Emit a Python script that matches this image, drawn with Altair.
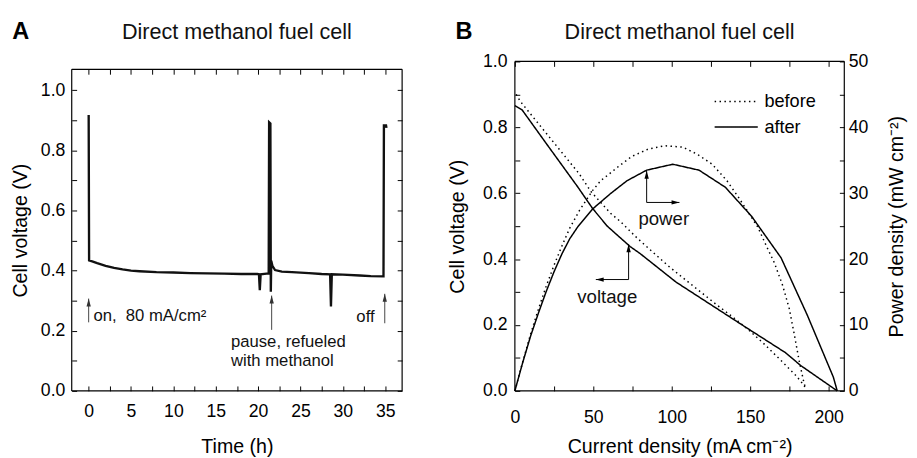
import altair as alt
import pandas as pd

FONT = "Liberation Sans"
PANEL_TITLE = "Direct methanol fuel cell"
PANEL_LETTERS = ["A", "B"]

# ---------------- Panel A: cell voltage vs time ----------------
time_h = [0.0, 0.05, 0.5, 1, 2, 3, 4, 5, 6, 8, 10, 12, 14, 16, 18, 19.9, 20.1, 20.2, 20.3,
          21.0, 21.25, 21.3, 21.45, 21.5, 21.55, 21.7, 22.0, 22.8, 24, 26, 27.5, 28.5, 28.6,
          28.7, 30, 32, 33.3, 34.8, 34.85, 35.1, 35.15]
cell_v = [0.918, 0.434, 0.430, 0.425, 0.416, 0.409, 0.404, 0.400, 0.398, 0.395, 0.394, 0.392,
          0.391, 0.390, 0.389, 0.389, 0.388, 0.335, 0.388, 0.390, 0.390, 0.894, 0.890, 0.330,
          0.433, 0.415, 0.402, 0.397, 0.395, 0.392, 0.389, 0.388, 0.281, 0.388, 0.387, 0.384,
          0.382, 0.381, 0.883, 0.883, 0.875]

a_x_domain = [-2, 37]
a_y_domain = [0, 1.07]
a_x_ticks = [0, 2.5, 5, 7.5, 10, 12.5, 15, 17.5, 20, 22.5, 25, 27.5, 30, 32.5, 35]
a_y_ticks = [0.0, 0.1, 0.2, 0.3, 0.4, 0.5, 0.6, 0.7, 0.8, 0.9, 1.0]

a_arrow_t = [0.0, 21.6, 34.95]
a_arrow_tip = [0.307, 0.317, 0.323]
a_arrow_base = [0.228, 0.203, 0.225]

a_left_labels = ["on,\u00a0\u00a080 mA/cm\u00b2", "pause, refueled", "with methanol"]
a_left_t = [0.56, 16.8, 16.8]
a_left_v = [0.249, 0.162, 0.100]
a_right_labels = ["off"]
a_right_t = [33.75]
a_right_v = [0.246]

# ---------------- Panel B: polarization curves ----------------
series_names = ["before", "after"]

before_v_i = [0.8, 3.6, 20, 41, 48.5, 61, 67.3, 77.7, 88.2, 97.6, 108, 118.5, 129, 138.4,
              148.8, 159.2, 169.7, 179.1, 184.3, 185.5]
before_v = [0.900, 0.878, 0.782, 0.659, 0.605, 0.539, 0.514, 0.465, 0.420, 0.380, 0.340,
            0.300, 0.260, 0.226, 0.186, 0.141, 0.092, 0.047, 0.017, 0.005]
after_v_i = [0, 4.6, 20, 40.1, 49.5, 58.9, 73.5, 79.8, 102.8, 144.6, 172.5, 182.2, 205.5]
after_v = [0.866, 0.853, 0.751, 0.619, 0.554, 0.500, 0.438, 0.417, 0.330, 0.201, 0.116,
           0.077, 0.0]

before_p_i = [0, 5, 10, 15, 20, 25, 30, 35, 41.2, 49.5, 54.7, 60, 65.2, 74.6, 85, 95.5, 107,
              116.4, 125.8, 135.2, 142.5, 155, 160.3, 165.5, 170.7, 174.9, 178.1, 181.2,
              184.3, 185.5]
before_p = [0, 4.4, 8.6, 12.4, 15.9, 19.1, 22.0, 24.7, 27.4, 30.4, 31.9, 32.9, 33.9, 35.6,
            36.7, 37.2, 37.0, 35.9, 34.4, 31.9, 29.4, 24.8, 22.0, 19.4, 16.0, 12.5, 8.6, 4.6,
            1.2, 0.3]
after_p_i = [0, 5, 10, 15, 20, 25, 30, 35, 40.1, 49.5, 61, 71.5, 84, 100.7, 117.4, 134.2,
             150.9, 169.7, 186.4, 203, 205.5]
after_p = [0, 4.3, 8.3, 11.8, 15.1, 18.1, 20.8, 23.1, 24.9, 27.6, 29.95, 31.9, 33.5, 34.4,
           33.5, 30.9, 26.5, 20.2, 11.5, 2.1, 0]

b_x_domain = [0, 210]
b_v_domain = [0, 1]
b_p_domain = [0, 50]
b_x_ticks = [0, 25, 50, 75, 100, 125, 150, 175, 200]
b_v_ticks = [0.0, 0.1, 0.2, 0.3, 0.4, 0.5, 0.6, 0.7, 0.8, 0.9, 1.0]
b_p_ticks = [0, 5, 10, 15, 20, 25, 30, 35, 40, 45, 50]

power_arrow_i = [84, 84, 104.9]
power_arrow_p = [33.4, 28.6, 28.6]
power_label = ["power"]
power_label_i = [94.9]
power_label_p = [26.0]

volt_arrow_i = [72.5, 72.5, 51.6]
volt_arrow_v = [0.445, 0.338, 0.338]
volt_label = ["voltage"]
volt_label_i = [58.9]
volt_label_v = [0.286]

# ---------------- helpers ----------------
TICK = 5
UP = "M0,0L0.55,2L-0.55,2Z"
RIGHT = "M0,0L-2,0.55L-2,-0.55Z"
LEFT = "M0,0L2,0.55L2,-0.55Z"
A_W, A_H, B_W, B_H = 337, 336, 336, 336


def axis(orient, values, expr=None, title=None, pad=7, extra=0, tpad=14, **kw):
    opts = dict(orient=orient, values=values, title=title, offset=-(TICK + extra),
                ticks=True, tickSize=TICK, domain=False, grid=False, labelPadding=pad,
                labelOverlap=False, labelFlush=False, titlePadding=tpad,
                tickColor="black", tickWidth=1, tickOpacity=1)
    if expr is None:
        opts["labels"] = False
    else:
        opts["labelExpr"] = expr
    opts.update(kw)
    return alt.Axis(**opts)


def frame_edges(xd, yd):
    # four sides of the plot frame, in data coordinates
    return pd.DataFrame({
        "xs": [xd[0], xd[0], xd[0], xd[1]],
        "xe": [xd[1], xd[1], xd[0], xd[1]],
        "ys": [yd[0], yd[1], yd[0], yd[0]],
        "ye": [yd[0], yd[1], yd[1], yd[1]],
    })


def heading(letter, width):
    df = pd.DataFrame({"s": [letter]})
    let = alt.Chart(df).mark_text(
        font=FONT, fontSize=24, fontWeight="bold", align="center", baseline="middle",
        color="black").encode(x=alt.value(-52), y=alt.value(-30), text="s:N")
    ttl = alt.Chart(pd.DataFrame({"s": [PANEL_TITLE]})).mark_text(
        font=FONT, fontSize=22, align="center", baseline="middle", color="#111111"
    ).encode(x=alt.value(width / 2), y=alt.value(-30), text="s:N")
    return let, ttl


# ---------------- Panel A ----------------
xa = alt.Scale(domain=a_x_domain, nice=False, zero=False)
ya = alt.Scale(domain=a_y_domain, range=[A_H, 8], nice=False, zero=False)

a_trace = pd.DataFrame({"t": time_h, "v": cell_v, "k": list(range(len(time_h)))})

a_line = alt.Chart(a_trace).mark_line(color="#111111", strokeWidth=2.4).encode(
    x=alt.X("t:Q", scale=xa,
            axis=axis("bottom", a_x_ticks,
                      "datum.value % 5 == 0 ? format(datum.value, '.0f') : ''",
                      title="Time (h)", pad=12, tpad=17)),
    y=alt.Y("v:Q", scale=ya,
            axis=axis("left", a_y_ticks,
                      "round(datum.value * 10) % 2 == 0 ? format(datum.value, '.1f') : ''",
                      title="Cell voltage (V)", pad=7, tpad=10)),
    order="k:Q",
)

a_frame = alt.Chart(frame_edges(a_x_domain, a_y_domain)).mark_rule(
    color="black", strokeWidth=1.2
).encode(
    x=alt.X("xs:Q", scale=xa, axis=axis("top", a_x_ticks, extra=8)),
    x2="xe:Q",
    y=alt.Y("ys:Q", scale=ya, axis=axis("right", a_y_ticks)),
    y2="ye:Q",
)

a_arrows_df = pd.DataFrame({"t": a_arrow_t, "tip": a_arrow_tip, "base": a_arrow_base})
a_shafts = alt.Chart(a_arrows_df).mark_rule(color="#444444", strokeWidth=1).encode(
    x=alt.X("t:Q", scale=xa, axis=None),
    y=alt.Y("base:Q", scale=ya, axis=None),
    y2="tip:Q",
)
a_heads = alt.Chart(a_arrows_df).mark_point(
    shape=UP, size=64, filled=True, color="#333333", opacity=1
).encode(
    x=alt.X("t:Q", scale=xa, axis=None),
    y=alt.Y("tip:Q", scale=ya, axis=None),
)
a_text_l = alt.Chart(pd.DataFrame({"s": a_left_labels, "t": a_left_t, "v": a_left_v})).mark_text(
    font=FONT, fontSize=17, align="left", baseline="middle", color="#111111"
).encode(x=alt.X("t:Q", scale=xa, axis=None), y=alt.Y("v:Q", scale=ya, axis=None), text="s:N")
a_text_r = alt.Chart(pd.DataFrame({"s": a_right_labels, "t": a_right_t, "v": a_right_v})).mark_text(
    font=FONT, fontSize=17, align="right", baseline="middle", color="#111111"
).encode(x=alt.X("t:Q", scale=xa, axis=None), y=alt.Y("v:Q", scale=ya, axis=None), text="s:N")
a_letter, a_title = heading(PANEL_LETTERS[0], A_W)

panel_a = alt.layer(
    a_line, a_frame, a_shafts, a_heads, a_text_l, a_text_r, a_letter, a_title
).resolve_axis(x="independent", y="independent").properties(width=A_W, height=A_H)

# ---------------- Panel B ----------------
xb = alt.Scale(domain=b_x_domain, nice=False, zero=False)
yv = alt.Scale(domain=b_v_domain, nice=False, zero=False)
yp = alt.Scale(domain=b_p_domain, nice=False, zero=False)
dash_scale = alt.Scale(domain=series_names, range=[[1.5, 3.5], [1, 0]])
legend = alt.Legend(
    title=None, orient="none", legendX=216.5, legendY=31.5, symbolType="M-4,0H4",
    symbolSize=121, symbolStrokeWidth=1.5, symbolStrokeColor="black", labelOffset=19.5,
    labelFontSize=18.5, labelFont=FONT, labelColor="black", rowPadding=7, padding=0,
)

volt_df = pd.DataFrame({
    "i": before_v_i + after_v_i,
    "v": before_v + after_v,
    "series": ["before"] * len(before_v_i) + ["after"] * len(after_v_i),
})
power_df = pd.DataFrame({
    "i": before_p_i + after_p_i,
    "p": before_p + after_p,
    "series": ["before"] * len(before_p_i) + ["after"] * len(after_p_i),
})

b_vlines = alt.Chart(volt_df).mark_line(color="black", strokeWidth=1.5).encode(
    x=alt.X("i:Q", scale=xb,
            axis=axis("bottom", b_x_ticks,
                      "datum.value % 50 == 0 ? format(datum.value, '.0f') : ''",
                      title="Current density (mA cm\u207b\u00b2)", pad=18, tpad=11)),
    y=alt.Y("v:Q", scale=yv,
            axis=axis("left", b_v_ticks,
                      "round(datum.value * 10) % 2 == 0 ? format(datum.value, '.1f') : ''",
                      title="Cell voltage (V)", pad=8, tpad=15)),
    strokeDash=alt.StrokeDash("series:N", scale=dash_scale, legend=legend),
)
b_frame = alt.Chart(frame_edges(b_x_domain, b_v_domain)).mark_rule(
    color="black", strokeWidth=1.2
).encode(
    x=alt.X("xs:Q", scale=xb, axis=axis("top", b_x_ticks)),
    x2="xe:Q",
    y=alt.Y("ys:Q", scale=yv, axis=None),
    y2="ye:Q",
)
volt_arrow = pd.DataFrame({"i": volt_arrow_i, "v": volt_arrow_v, "k": [0, 1, 2]})
b_varrow = alt.Chart(volt_arrow).mark_line(color="black", strokeWidth=1).encode(
    x=alt.X("i:Q", scale=xb, axis=None), y=alt.Y("v:Q", scale=yv, axis=None), order="k:Q"
)
b_vhead_up = alt.Chart(volt_arrow.iloc[[0]]).mark_point(
    shape=UP, size=64, filled=True, color="black", opacity=1
).encode(x=alt.X("i:Q", scale=xb, axis=None), y=alt.Y("v:Q", scale=yv, axis=None))
b_vhead_left = alt.Chart(volt_arrow.iloc[[2]]).mark_point(
    shape=LEFT, size=64, filled=True, color="black", opacity=1
).encode(x=alt.X("i:Q", scale=xb, axis=None), y=alt.Y("v:Q", scale=yv, axis=None))
b_vtext = alt.Chart(pd.DataFrame({"s": volt_label, "i": volt_label_i, "v": volt_label_v})).mark_text(
    font=FONT, fontSize=19, align="center", baseline="middle", color="#111111"
).encode(x=alt.X("i:Q", scale=xb, axis=None), y=alt.Y("v:Q", scale=yv, axis=None), text="s:N")
b_letter, b_title = heading(PANEL_LETTERS[1], B_W)

volt_group = alt.layer(
    b_vlines, b_frame, b_varrow, b_vhead_up, b_vhead_left, b_vtext, b_letter, b_title
).resolve_axis(x="independent", y="independent")

b_plines = alt.Chart(power_df).mark_line(color="black", strokeWidth=1.5).encode(
    x=alt.X("i:Q", scale=xb, axis=None),
    y=alt.Y("p:Q", scale=yp,
            axis=axis("right", b_p_ticks,
                      "datum.value % 10 == 0 ? format(datum.value, '.0f') : ''",
                      title="Power density (mW cm\u207b\u00b2)", pad=4, tpad=19,
                      titleAngle=270, titleBaseline="top")),
    strokeDash=alt.StrokeDash("series:N", scale=dash_scale, legend=legend),
)
power_arrow = pd.DataFrame({"i": power_arrow_i, "p": power_arrow_p, "k": [0, 1, 2]})
b_parrow = alt.Chart(power_arrow).mark_line(color="black", strokeWidth=1).encode(
    x=alt.X("i:Q", scale=xb, axis=None), y=alt.Y("p:Q", scale=yp, axis=None), order="k:Q"
)
b_phead_up = alt.Chart(power_arrow.iloc[[0]]).mark_point(
    shape=UP, size=64, filled=True, color="black", opacity=1
).encode(x=alt.X("i:Q", scale=xb, axis=None), y=alt.Y("p:Q", scale=yp, axis=None))
b_phead_right = alt.Chart(power_arrow.iloc[[2]]).mark_point(
    shape=RIGHT, size=64, filled=True, color="black", opacity=1
).encode(x=alt.X("i:Q", scale=xb, axis=None), y=alt.Y("p:Q", scale=yp, axis=None))
b_ptext = alt.Chart(pd.DataFrame({"s": power_label, "i": power_label_i, "p": power_label_p})).mark_text(
    font=FONT, fontSize=19, align="center", baseline="middle", color="#111111"
).encode(x=alt.X("i:Q", scale=xb, axis=None), y=alt.Y("p:Q", scale=yp, axis=None), text="s:N")

power_group = alt.layer(b_plines, b_parrow, b_phead_up, b_phead_right, b_ptext).resolve_axis(
    x="independent", y="independent"
)

panel_b = alt.layer(volt_group, power_group).resolve_scale(y="independent").resolve_axis(
    x="independent", y="independent"
).properties(width=B_W, height=B_H)

chart = alt.hconcat(panel_a, panel_b, spacing=45).resolve_legend(
    strokeDash="independent"
).properties(
    padding={"left": 2, "top": 8, "right": 2, "bottom": 0}
).configure_view(stroke=None).configure_axis(
    labelFont=FONT, titleFont=FONT, labelFontSize=18, titleFontSize=20,
    labelColor="black", titleColor="black", titleFontWeight="normal",
)

chart.save("out.html", embed_options={"renderer": "svg", "actions": False})
